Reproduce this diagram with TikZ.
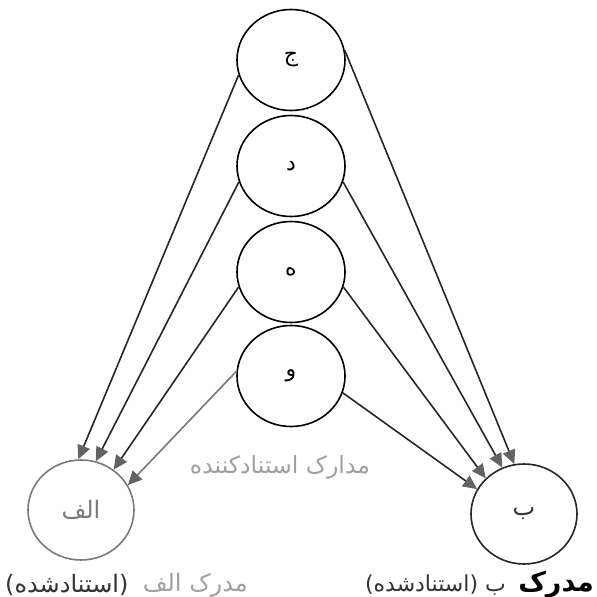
\documentclass[tikz,border=0pt]{standalone}
\usepackage{fontspec}
\usepackage{graphicx}
\usetikzlibrary{shapes.geometric,arrows.meta}
\newfontfamily\arabicfont[Script=Arabic]{DejaVu Sans}
\TeXXeTstate=1
\definecolor{tipgray}{HTML}{636363}
\definecolor{lightgray}{HTML}{A0A0A0}
\definecolor{midgray}{HTML}{7A7A7A}
\definecolor{darktext}{HTML}{333333}
\begin{document}
\begin{tikzpicture}[x=1pt,y=-1pt,
  topcircle/.style={ellipse, draw=black, line width=1.6pt, minimum width=108pt, minimum height=101pt, inner sep=0pt, font=\arabicfont\fontsize{22}{24}\selectfont},
  doccircle/.style={ellipse, line width=1.6pt, minimum width=106pt, minimum height=100pt, inner sep=0pt, font=\arabicfont\fontsize{24}{26}\selectfont},
  conn/.style={draw=black!85, line width=1.6pt, -{Triangle[length=14pt,width=13pt,color=tipgray]}},
  lightconn/.style={conn, draw=midgray},
  lbl/.style={inner sep=0pt, font=\arabicfont\fontsize{24}{28}\selectfont},
  lblr/.style={inner sep=0pt, font=\arabicfont\fontsize{22}{26}\selectfont}
]
\useasboundingbox (0,0) rectangle (597,597);
\fill[white] (0,0) rectangle (597,597);

\node[topcircle] (j) at (291,60) {\beginR ج\endR};
\node[topcircle] (d) at (291,166) {\beginR د\endR};
\node[topcircle] (h) at (291,272) {\beginR ه\endR};
\node[topcircle] (v) at (291,376) {\beginR و\endR};

\node[doccircle, draw=midgray, text=midgray] (alef) at (81,510) {\beginR الف\endR};
\node[doccircle, draw=black!85, text=darktext] (be) at (524,514) {\beginR ب\endR};

\node[inner sep=0pt, text=lightgray, font=\arabicfont] (citing) at (280,467) {\resizebox{180pt}{!}{\beginR مدارک استنادکننده\endR}};

\node[lbl, text=darktext, anchor=west] (labA1) at (5,585) {\beginR (استنادشده)\endR};
\node[lbl, text=lightgray, anchor=east] (labA2) at (248,585) {\beginR مدرک الف\endR};

\node[lblr, text=black, anchor=east, font=\arabicfont\bfseries\fontsize{27}{30}\selectfont] (labB2) at (594,585) {\beginR مدرک\endR};
\node[lblr, text=darktext, anchor=east] (labB1) at (506,585) {\beginR ب (استنادشده)\endR};

\draw[conn] (j.196) -- (alef.93);
\draw[conn] (d.197) -- (alef.73);
\draw[conn] (h.196) -- (alef.51);
\draw[lightconn] (v.175) -- (alef.28);

\draw[conn] (j.10) -- (be.101);
\draw[conn] (d.343) -- (be.115);
\draw[conn] (h.344) -- (be.137);
\draw[conn] (v.342) -- (be.152);
\end{tikzpicture}
\end{document}
